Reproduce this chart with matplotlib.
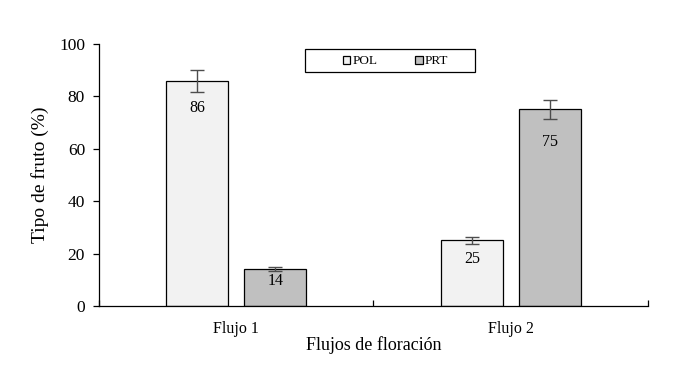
import numpy as np
import matplotlib
matplotlib.use("Agg")
import matplotlib.pyplot as plt
from matplotlib.ticker import FixedLocator
from matplotlib.patches import Rectangle

plt.rcParams["font.family"] = ["Liberation Serif", "DejaVu Serif"]

flujos = ["Flujo 1", "Flujo 2"]
series = ["POL", "PRT"]
pol = [86, 25]
prt = [14, 75]
pol_err = [4.2, 1.3]
prt_err = [0.8, 3.8]
# distance (px) from top of bar down to the centre of its value label
pol_lab = [27, 19]
prt_lab = [12, 33]

colors = {"POL": "#f2f2f2", "PRT": "#c0c0c0"}

fig = plt.figure(figsize=(6.95, 3.75), dpi=100)
ax = fig.add_axes([0.1424, 0.184, 0.79, 0.6987])

x = np.arange(len(flujos))
w = 0.226
off = 0.142

for vals, errs, labs, name, sgn in [(pol, pol_err, pol_lab, "POL", -1), (prt, prt_err, prt_lab, "PRT", 1)]:
    xs = x + sgn * off
    ax.bar(xs, vals, w, color=colors[name], edgecolor="black", linewidth=0.9, label=name, zorder=2)
    ax.errorbar(xs, vals, yerr=errs, fmt="none", ecolor="#4d4d4d", elinewidth=1, capsize=5, capthick=1, zorder=3)
    for xi, v, d in zip(xs, vals, labs):
        ax.annotate(str(v), (xi, v), xytext=(0, -d * 72 / 100), textcoords="offset points",
                    ha="center", va="center", fontsize=11.5)

ax.set_xlim(-0.5, 1.5)
ax.set_ylim(0, 100)
ax.set_yticks(range(0, 101, 20))
ax.set_xticks(x)
ax.set_xticklabels(flujos)
ax.tick_params(axis="x", which="major", length=0, pad=10.5, labelsize=11.5)
ax.xaxis.set_minor_locator(FixedLocator([-0.5, 0.5, 1.5]))
ax.tick_params(axis="x", which="minor", direction="in", length=4, width=0.9)
ax.tick_params(axis="y", direction="out", length=4, width=0.9, labelsize=12.5, pad=6)

for s in ["top", "right"]:
    ax.spines[s].set_visible(False)
for s in ["left", "bottom"]:
    ax.spines[s].set_linewidth(0.9)

ax.set_ylabel("Tipo de fruto (%)", fontsize=14, labelpad=7)
ax.set_xlabel("Flujos de floración", fontsize=13, labelpad=0)

# legend frame drawn separately so entries stay centred in a wide box
ax.add_patch(Rectangle((0.375, 0.893), 0.31, 0.088, transform=ax.transAxes, fill=False,
                       edgecolor="black", linewidth=0.9, clip_on=False, zorder=4))
leg = ax.legend(loc="center", bbox_to_anchor=(0.54, 0.934), ncol=2, fontsize=9.5, frameon=False,
                handlelength=0.55, handleheight=0.55, handletextpad=0.15, borderaxespad=0,
                columnspacing=2.9, borderpad=0)

fig.savefig("out.png", dpi=100)
